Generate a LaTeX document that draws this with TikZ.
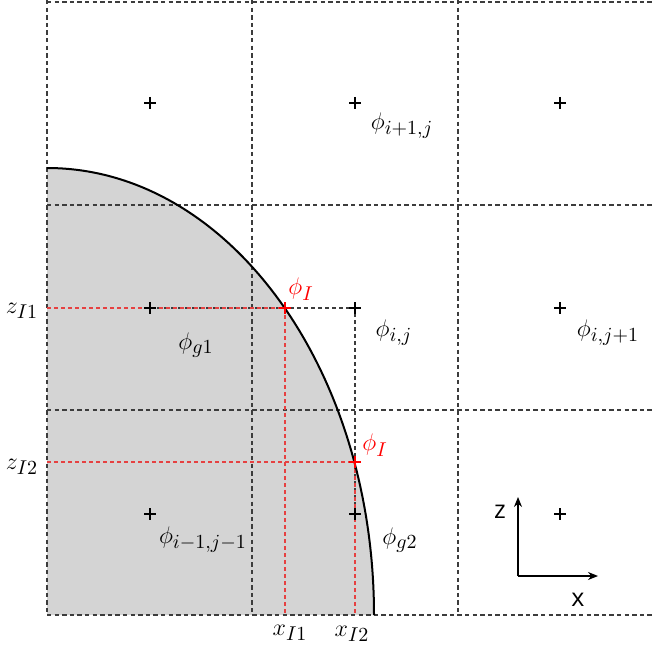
\documentclass[tikz,border=0pt]{standalone}
\usepackage{fontspec}
\newfontfamily\axfont{Open Sans}
\usetikzlibrary{arrows.meta}
\DeclareMathSizes{13}{13}{10}{7}
\definecolor{gridc}{RGB}{60,60,60}
\definecolor{redl}{RGB}{230,65,65}
\definecolor{redt}{RGB}{255,0,0}
\definecolor{fillg}{RGB}{212,212,212}
\tikzset{
  gridline/.style={draw=gridc, line width=0.65pt, dash pattern=on 2.2pt off 1.6pt},
  reddash/.style={draw=redl, line width=0.6pt, dash pattern=on 2pt off 1.5pt},
  blkdash/.style={draw=gridc, line width=0.55pt, dash pattern=on 2pt off 1.5pt},
  crs/.style={draw=black, line width=0.75pt},
  rcrs/.style={draw=redt, line width=0.75pt},
  lab/.style={inner sep=0pt, font=\fontsize{13}{15}\selectfont},
  rlab/.style={lab, text=redt},
  axl/.style={inner sep=0pt, font=\axfont\fontsize{12.5}{14}\selectfont},
  axarrow/.style={draw=black, line width=0.6pt, -{Stealth[length=5pt,width=4pt]}}
}
\begin{document}
\begin{tikzpicture}[x=0.5pt,y=-0.5pt]
\useasboundingbox (0,0) rectangle (652,652);
% interface region
\fill[fillg] (47,615) -- (47,168) arc[start angle=-90,end angle=0,x radius=327,y radius=447] -- cycle;
% grid
\draw[gridline] (47,2) -- (652,2);
\draw[gridline] (47,205) -- (652,205);
\draw[gridline] (47,410) -- (652,410);
\draw[gridline] (47,615) -- (652,615);
\draw[gridline] (47,0) -- (47,615);
\draw[gridline] (252,0) -- (252,615);
\draw[gridline] (458,0) -- (458,615);
% cell centres
\coordinate (c11) at (150,103);
\coordinate (c12) at (355,103);
\coordinate (c13) at (560,103);
\coordinate (c21) at (150,308);
\coordinate (c22) at (355,308);
\coordinate (c23) at (560,308);
\coordinate (c31) at (150,514);
\coordinate (c32) at (355,514);
\coordinate (c33) at (560,514);
% interface points
\coordinate (pI1) at (285,308);
\coordinate (pI2) at (355,462);
\coordinate (zI1) at (47,308);
\coordinate (zI2) at (47,462);
\coordinate (xI1) at (285,615);
\coordinate (xI2) at (355,615);
% black stencil lines
\draw[blkdash] (c21) -- (c22) -- (c32);
% red projection lines
\draw[reddash] (zI1) -- (pI1) -- (xI1);
\draw[reddash] (zI2) -- (pI2) -- (xI2);
% interface curve
\draw[black, line width=1pt] (47,168) arc[start angle=-90,end angle=0,x radius=327,y radius=447];
% crosses
\foreach \c in {c11,c12,c13,c21,c22,c23,c31,c32,c33}
  \draw[crs] (\c) +(-6,0) -- +(6,0) +(0,-6) -- +(0,6);
\foreach \c in {pI1,pI2}
  \draw[rcrs] (\c) +(-6,0) -- +(6,0) +(0,-6) -- +(0,6);
% labels
\node[lab] (l12) at (402,126) {$\phi_{i+1,j}$};
\node[rlab] (lI1) at (301,289) {$\phi_{I}$};
\node[lab] (l22) at (394,333) {$\phi_{i,j}$};
\node[lab] (l23) at (608,333) {$\phi_{i,j+1}$};
\node[lab] (lg1) at (196,345) {$\phi_{g1}$};
\node[rlab] (lI2) at (375,445) {$\phi_{I}$};
\node[lab] (l31) at (203,540) {$\phi_{i-1,j-1}$};
\node[lab] (lg2) at (400,540) {$\phi_{g2}$};
\node[lab] (lz1) at (22,311) {$z_{I1}$};
\node[lab] (lz2) at (22,467) {$z_{I2}$};
\node[lab] (lx1) at (290,633) {$x_{I1}$};
\node[lab] (lx2) at (352,634) {$x_{I2}$};
% axes
\coordinate (ao) at (518,576);
\coordinate (az) at (518,497);
\coordinate (ax) at (598,576);
\draw[axarrow] (ao) -- (az);
\draw[axarrow] (ao) -- (ax);
\node[axl] (tz) at (500,512) {z};
\node[axl] (tx) at (578,600) {x};
\end{tikzpicture}
\end{document}
